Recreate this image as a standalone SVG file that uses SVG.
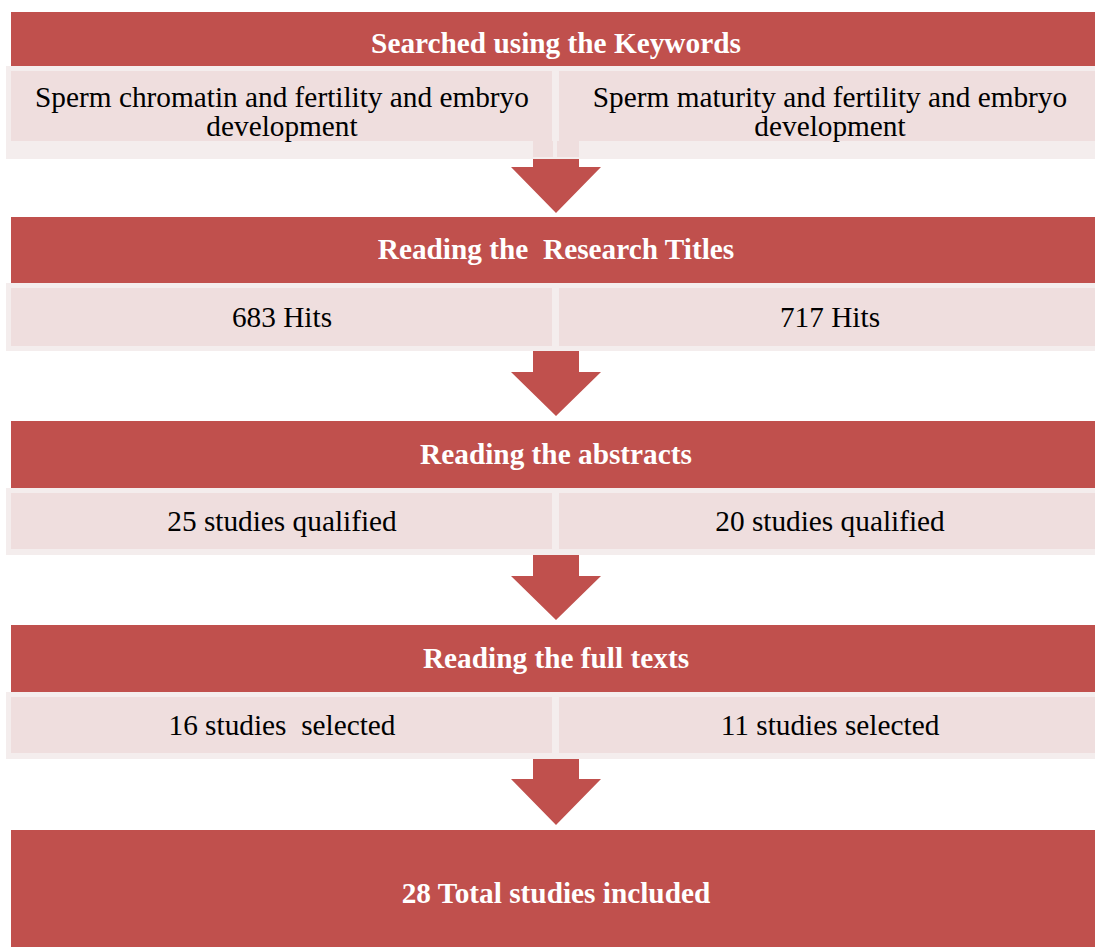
<svg xmlns="http://www.w3.org/2000/svg" width="1095" height="947" viewBox="0 0 1095 947">
<style>
.bar{fill:#c0504d}
.outer{fill:#f4eded}
.inner{fill:#efdede}
.arrow{fill:#c0504d}
.h{font-family:"Liberation Serif","Times New Roman",Tinos,"Nimbus Roman","DejaVu Serif",serif;font-weight:bold;font-size:29.3px;fill:#ffffff;text-anchor:middle}
.t{font-family:"Liberation Serif","Times New Roman",Tinos,"Nimbus Roman","DejaVu Serif",serif;font-weight:normal;font-style:normal;font-size:29.3px;fill:#000000;text-anchor:middle}
</style>
<rect width="1095" height="947" fill="#ffffff"/>

<g id="connectors">
<path class="arrow" d="M533,156 H579 V167 H601 L556,213 L511,167 H533 Z"/>
<path class="arrow" d="M533,348 H579 V372 H601 L556,416 L511,372 H533 Z"/>
<path class="arrow" d="M533,552 H579 V576 H601 L556,620 L511,576 H533 Z"/>
<path class="arrow" d="M533,756 H579 V779 H601 L556,825 L511,779 H533 Z"/>
</g>

<g id="header-keywords">
<rect class="bar" x="11" y="12" width="1084" height="54"/>
<text class="h" x="556" y="53">Searched using the Keywords</text>
</g>
<g id="keywords-left">
<rect class="outer" x="6" y="66" width="549" height="93"/>
<rect class="inner" x="11" y="71" width="541" height="70"/>
<rect class="inner" x="533" y="141" width="21" height="16"/>
<text class="t" x="282" y="107">Sperm chromatin and fertility and embryo</text>
<text class="t" x="282" y="136">development</text>
</g>
<g id="keywords-right">
<rect class="outer" x="553" y="66" width="542" height="93"/>
<rect class="inner" x="559" y="71" width="536" height="70"/>
<rect class="inner" x="557" y="141" width="22" height="16"/>
<text class="t" x="830" y="107">Sperm maturity and fertility and embryo</text>
<text class="t" x="830" y="136">development</text>
</g>

<g id="header-titles">
<rect class="bar" x="11" y="217" width="1084" height="66"/>
<text class="h" x="556" y="259" xml:space="preserve">Reading the  Research Titles</text>
</g>
<g id="titles-left">
<rect class="outer" x="6" y="283" width="549" height="68"/>
<rect class="inner" x="11" y="288" width="541" height="58"/>
<text class="t" x="282" y="327">683 Hits</text>
</g>
<g id="titles-right">
<rect class="outer" x="553" y="283" width="542" height="68"/>
<rect class="inner" x="559" y="288" width="536" height="58"/>
<text class="t" x="830" y="327">717 Hits</text>
</g>

<g id="header-abstracts">
<rect class="bar" x="11" y="421" width="1084" height="67"/>
<text class="h" x="556" y="464">Reading the abstracts</text>
</g>
<g id="abstracts-left">
<rect class="outer" x="6" y="488" width="549" height="67"/>
<rect class="inner" x="11" y="493" width="541" height="56"/>
<text class="t" x="282" y="531">25 studies qualified</text>
</g>
<g id="abstracts-right">
<rect class="outer" x="553" y="488" width="542" height="67"/>
<rect class="inner" x="559" y="493" width="536" height="56"/>
<text class="t" x="830" y="531">20 studies qualified</text>
</g>

<g id="header-fulltexts">
<rect class="bar" x="11" y="625" width="1084" height="67"/>
<text class="h" x="556" y="668">Reading the full texts</text>
</g>
<g id="fulltexts-left">
<rect class="outer" x="6" y="692" width="549" height="67"/>
<rect class="inner" x="11" y="697" width="541" height="56"/>
<text class="t" x="282" y="735" xml:space="preserve">16 studies  selected</text>
</g>
<g id="fulltexts-right">
<rect class="outer" x="553" y="692" width="542" height="67"/>
<rect class="inner" x="559" y="697" width="536" height="56"/>
<text class="t" x="830" y="735">11 studies selected</text>
</g>

<g id="total">
<rect class="bar" x="11" y="830" width="1084" height="117"/>
<text class="h" x="556" y="903">28 Total studies included</text>
</g>
</svg>
